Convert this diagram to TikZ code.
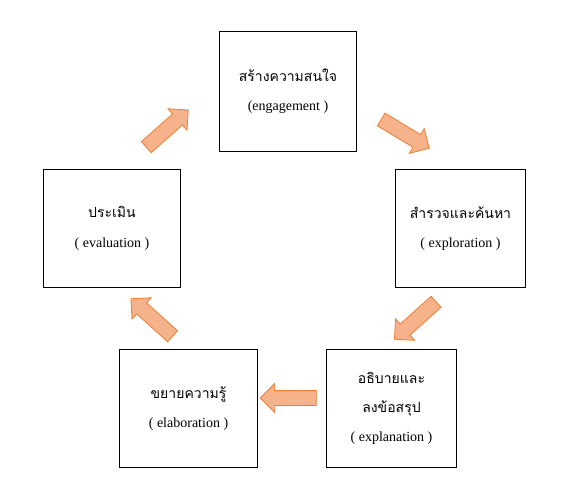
\documentclass[tikz,border=0pt]{standalone}
\usepackage{fontspec}
\setmainfont{Liberation Serif}
\newfontfamily\thaifont[Script=Thai,Scale=1.0]{Loma}
\usepackage{tikz}
\usetikzlibrary{shapes.arrows}
\definecolor{arrowfill}{RGB}{246,178,138}
\definecolor{arrowedge}{RGB}{237,125,49}

\begin{document}
\begin{tikzpicture}[
    x=0.75pt, y=-0.75pt,
    phase/.style={draw, semithick, align=center, minimum width=103pt, minimum height=90pt, inner sep=2pt, font=\fontsize{10.5}{22}\selectfont},
    flow/.style={single arrow, draw=arrowedge, fill=arrowfill, minimum height=42pt, minimum width=21pt, single arrow head extend=5.25pt, inner xsep=0pt, inner ysep=5.25pt, line width=0.6pt}
]
\useasboundingbox (0,0) rectangle (586,497);

\node[phase] (engage) at (288,91) {{\thaifont สร้างความสนใจ}\\(engagement )};
\node[phase, minimum width=97pt, minimum height=89pt] (explore) at (460.5,228.5) {{\thaifont สำรวจและค้นหา}\\( exploration )};
\node[phase, minimum width=97pt, minimum height=89pt] (explain) at (391.5,408.5) {{\thaifont อธิบายและ}\\{\thaifont ลงข้อสรุป}\\( explanation )};
\node[phase, minimum width=103pt, minimum height=89pt] (elab) at (188.5,408.5) {{\thaifont ขยายความรู้}\\( elaboration )};
\node[phase, minimum width=103pt, minimum height=89pt] (evalu) at (112,228.5) {{\thaifont ประเมิน}\\( evaluation )};

% block arrows round the cycle
\node[flow, rotate=-31] (a1) at (402,132) {};
\node[flow, rotate=-138] (a2) at (418,318) {};
\node[flow, rotate=180] (a3) at (292,398) {};
\node[flow, rotate=138] (a4) at (154.5,320) {};
\node[flow, rotate=41.5] (a5) at (164.5,131) {};
\end{tikzpicture}
\end{document}
